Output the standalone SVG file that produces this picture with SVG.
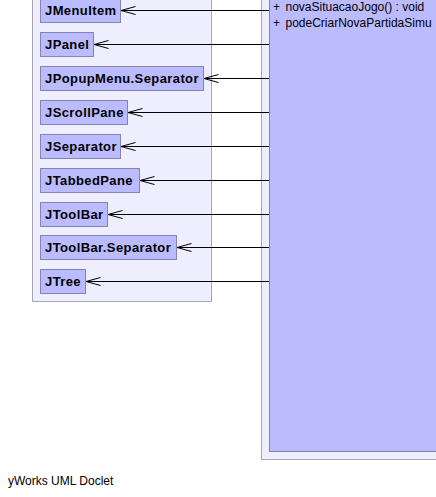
<svg xmlns="http://www.w3.org/2000/svg" width="436" height="497" viewBox="0 0 436 497">
<defs>
<style>
.pkg{fill:#EEEEFF;stroke:#A6A6B8;stroke-width:1}
.cls{fill:#BBBBFF;stroke:#8484AC;stroke-width:1}
.name{font-family:"Liberation Sans",Arial,sans-serif;font-size:13px;font-weight:bold;fill:#000;letter-spacing:0.4px}
.mem{font-family:"Liberation Sans",Arial,sans-serif;font-size:12px;fill:#000}
.edge{stroke:#000;stroke-width:1;fill:none}
</style>
<marker id="open" markerWidth="16" markerHeight="10" refX="15" refY="4.5" orient="auto" markerUnits="userSpaceOnUse" viewBox="0 0 16 9">
<path d="M0.5,0.5 L15,4.5 L0.5,8.5" fill="none" stroke="#000" stroke-width="1"/>
</marker>
</defs>
<rect width="436" height="497" fill="#FFFFFF"/>
<g id="pkg-left"><rect class="pkg" x="32.5" y="-20.5" width="179" height="322"/></g>
<g id="pkg-right"><rect class="pkg" x="261.5" y="-20.5" width="200" height="480"/></g>
<g id="main-class">
<rect class="cls" x="269.5" y="-20.5" width="190" height="472"/>
<text class="mem" x="273" y="11">+</text><text class="mem" x="285.5" y="11">novaSituacaoJogo() : void</text>
<text class="mem" x="273" y="27">+</text><text class="mem" x="285.5" y="27">podeCriarNovaPartidaSimu</text>
</g>
<g id="JMenuItem"><rect class="cls" x="40.5" y="-1.5" width="80" height="24"/><text class="name" x="45" y="15">JMenuItem</text></g>
<g id="JPanel"><rect class="cls" x="40.5" y="32.5" width="53" height="24"/><text class="name" x="45" y="49">JPanel</text></g>
<g id="JPopupMenu.Separator"><rect class="cls" x="40.5" y="66.5" width="163" height="24"/><text class="name" x="45" y="83">JPopupMenu.Separator</text></g>
<g id="JScrollPane"><rect class="cls" x="40.5" y="100.5" width="87" height="24"/><text class="name" x="45" y="117">JScrollPane</text></g>
<g id="JSeparator"><rect class="cls" x="40.5" y="134.5" width="80" height="24"/><text class="name" x="45" y="151">JSeparator</text></g>
<g id="JTabbedPane"><rect class="cls" x="40.5" y="168.5" width="99" height="24"/><text class="name" x="45" y="185">JTabbedPane</text></g>
<g id="JToolBar"><rect class="cls" x="40.5" y="202.5" width="67" height="24"/><text class="name" x="45" y="219">JToolBar</text></g>
<g id="JToolBar.Separator"><rect class="cls" x="40.5" y="235.5" width="136" height="24"/><text class="name" x="45" y="252">JToolBar.Separator</text></g>
<g id="JTree"><rect class="cls" x="40.5" y="269.5" width="45" height="24"/><text class="name" x="45" y="286">JTree</text></g>
<g id="connectors">
<line class="edge" x1="269" y1="10.5" x2="121" y2="10.5" marker-end="url(#open)"/>
<line class="edge" x1="269" y1="44.5" x2="94" y2="44.5" marker-end="url(#open)"/>
<line class="edge" x1="269" y1="78.5" x2="204" y2="78.5" marker-end="url(#open)"/>
<line class="edge" x1="269" y1="112.5" x2="128" y2="112.5" marker-end="url(#open)"/>
<line class="edge" x1="269" y1="146.5" x2="121" y2="146.5" marker-end="url(#open)"/>
<line class="edge" x1="269" y1="180.5" x2="140" y2="180.5" marker-end="url(#open)"/>
<line class="edge" x1="269" y1="214.5" x2="108" y2="214.5" marker-end="url(#open)"/>
<line class="edge" x1="269" y1="247.5" x2="177" y2="247.5" marker-end="url(#open)"/>
<line class="edge" x1="269" y1="281.5" x2="86" y2="281.5" marker-end="url(#open)"/>
</g>
<text class="mem" x="8" y="485">yWorks UML Doclet</text>
</svg>
